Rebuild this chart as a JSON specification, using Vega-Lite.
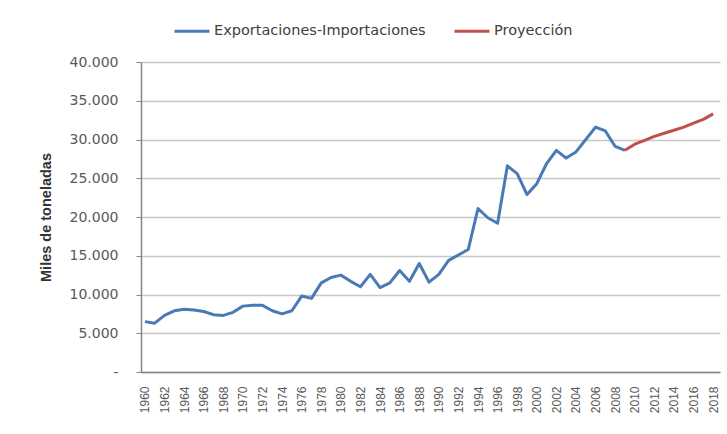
{
  "$schema": "https://vega.github.io/schema/vega-lite/v6.json",
  "width": 579,
  "height": 310,
  "autosize": {"type": "none"},
  "padding": {"left": 141, "top": 62, "right": 7, "bottom": 62},
  "background": "white",
  "data": {
    "values": [
      {"year": 1960, "value": 6500, "serie": "Exportaciones-Importaciones"},
      {"year": 1961, "value": 6300, "serie": "Exportaciones-Importaciones"},
      {"year": 1962, "value": 7300, "serie": "Exportaciones-Importaciones"},
      {"year": 1963, "value": 7900, "serie": "Exportaciones-Importaciones"},
      {"year": 1964, "value": 8100, "serie": "Exportaciones-Importaciones"},
      {"year": 1965, "value": 8000, "serie": "Exportaciones-Importaciones"},
      {"year": 1966, "value": 7800, "serie": "Exportaciones-Importaciones"},
      {"year": 1967, "value": 7400, "serie": "Exportaciones-Importaciones"},
      {"year": 1968, "value": 7300, "serie": "Exportaciones-Importaciones"},
      {"year": 1969, "value": 7700, "serie": "Exportaciones-Importaciones"},
      {"year": 1970, "value": 8500, "serie": "Exportaciones-Importaciones"},
      {"year": 1971, "value": 8600, "serie": "Exportaciones-Importaciones"},
      {"year": 1972, "value": 8600, "serie": "Exportaciones-Importaciones"},
      {"year": 1973, "value": 7900, "serie": "Exportaciones-Importaciones"},
      {"year": 1974, "value": 7500, "serie": "Exportaciones-Importaciones"},
      {"year": 1975, "value": 7900, "serie": "Exportaciones-Importaciones"},
      {"year": 1976, "value": 9800, "serie": "Exportaciones-Importaciones"},
      {"year": 1977, "value": 9500, "serie": "Exportaciones-Importaciones"},
      {"year": 1978, "value": 11500, "serie": "Exportaciones-Importaciones"},
      {"year": 1979, "value": 12200, "serie": "Exportaciones-Importaciones"},
      {"year": 1980, "value": 12500, "serie": "Exportaciones-Importaciones"},
      {"year": 1981, "value": 11700, "serie": "Exportaciones-Importaciones"},
      {"year": 1982, "value": 11000, "serie": "Exportaciones-Importaciones"},
      {"year": 1983, "value": 12600, "serie": "Exportaciones-Importaciones"},
      {"year": 1984, "value": 10900, "serie": "Exportaciones-Importaciones"},
      {"year": 1985, "value": 11500, "serie": "Exportaciones-Importaciones"},
      {"year": 1986, "value": 13100, "serie": "Exportaciones-Importaciones"},
      {"year": 1987, "value": 11700, "serie": "Exportaciones-Importaciones"},
      {"year": 1988, "value": 14000, "serie": "Exportaciones-Importaciones"},
      {"year": 1989, "value": 11600, "serie": "Exportaciones-Importaciones"},
      {"year": 1990, "value": 12600, "serie": "Exportaciones-Importaciones"},
      {"year": 1991, "value": 14400, "serie": "Exportaciones-Importaciones"},
      {"year": 1992, "value": 15100, "serie": "Exportaciones-Importaciones"},
      {"year": 1993, "value": 15800, "serie": "Exportaciones-Importaciones"},
      {"year": 1994, "value": 21100, "serie": "Exportaciones-Importaciones"},
      {"year": 1995, "value": 19900, "serie": "Exportaciones-Importaciones"},
      {"year": 1996, "value": 19200, "serie": "Exportaciones-Importaciones"},
      {"year": 1997, "value": 26600, "serie": "Exportaciones-Importaciones"},
      {"year": 1998, "value": 25600, "serie": "Exportaciones-Importaciones"},
      {"year": 1999, "value": 22900, "serie": "Exportaciones-Importaciones"},
      {"year": 2000, "value": 24300, "serie": "Exportaciones-Importaciones"},
      {"year": 2001, "value": 26900, "serie": "Exportaciones-Importaciones"},
      {"year": 2002, "value": 28600, "serie": "Exportaciones-Importaciones"},
      {"year": 2003, "value": 27600, "serie": "Exportaciones-Importaciones"},
      {"year": 2004, "value": 28400, "serie": "Exportaciones-Importaciones"},
      {"year": 2005, "value": 30000, "serie": "Exportaciones-Importaciones"},
      {"year": 2006, "value": 31600, "serie": "Exportaciones-Importaciones"},
      {"year": 2007, "value": 31100, "serie": "Exportaciones-Importaciones"},
      {"year": 2008, "value": 29100, "serie": "Exportaciones-Importaciones"},
      {"year": 2009, "value": 28600, "serie": "Exportaciones-Importaciones"},
      {"year": 2009, "value": 28600, "serie": "Proyección"},
      {"year": 2010, "value": 29400, "serie": "Proyección"},
      {"year": 2011, "value": 29900, "serie": "Proyección"},
      {"year": 2012, "value": 30400, "serie": "Proyección"},
      {"year": 2013, "value": 30800, "serie": "Proyección"},
      {"year": 2014, "value": 31200, "serie": "Proyección"},
      {"year": 2015, "value": 31600, "serie": "Proyección"},
      {"year": 2016, "value": 32100, "serie": "Proyección"},
      {"year": 2017, "value": 32600, "serie": "Proyección"},
      {"year": 2018, "value": 33300, "serie": "Proyección"}
    ]
  },
  "mark": {"type": "line", "strokeWidth": 3, "strokeJoin": "round"},
  "encoding": {
    "x": {
      "field": "year",
      "type": "quantitative",
      "scale": {"domain": [1959.6, 2018.7], "nice": false, "zero": false},
      "axis": {
        "title": null,
        "values": [1960,1962,1964,1966,1968,1970,1972,1974,1976,1978,1980,1982,1984,1986,1988,1990,1992,1994,1996,1998,2000,2002,2004,2006,2008,2010,2012,2014,2016,2018],
        "format": "d",
        "labelAngle": 270,
        "labelAlign": "right",
        "labelBaseline": "middle",
        "labelFontSize": 12,
        "labelColor": "#595959",
        "labelPadding": 14,
        "labelFont": "Liberation Sans",
        "ticks": false,
        "grid": false,
        "domainColor": "#868686",
        "domainWidth": 1.5,
        "labelOverlap": false,
        "labelFlush": false
      }
    },
    "y": {
      "field": "value",
      "type": "quantitative",
      "scale": {"domain": [0, 40000], "nice": false},
      "axis": {
        "title": "Miles de toneladas",
        "titleFont": "Liberation Sans",
        "titleFontSize": 14.5,
        "titleFontWeight": "bold",
        "titleColor": "#333333",
        "titlePadding": 16,
        "values": [0,5000,10000,15000,20000,25000,30000,35000,40000],
        "labelExpr": "datum.value == 0 ? '-' : replace(format(datum.value, ','), ',', '.')",
        "labelFont": "DejaVu Sans",
        "labelFontSize": 14,
        "labelColor": "#595959",
        "labelPadding": 18,
        "tickSize": 5,
        "tickColor": "#868686",
        "domainColor": "#868686",
        "domainWidth": 1.5,
        "gridColor": "#c8c8c8",
        "gridWidth": 1.5
      }
    },
    "color": {
      "field": "serie",
      "type": "nominal",
      "scale": {
        "domain": ["Exportaciones-Importaciones", "Proyección"],
        "range": ["#4a7ab5", "#c0504d"]
      },
      "legend": {
        "title": null,
        "orient": "none",
        "legendX": 32,
        "legendY": -50,
        "direction": "horizontal",
        "symbolType": "stroke",
        "symbolSize": 1225,
        "symbolStrokeWidth": 3,
        "labelFont": "DejaVu Sans",
        "labelFontSize": 14.5,
        "labelColor": "#404040",
        "labelOffset": 3,
        "labelLimit": 0,
        "columnPadding": 22
      }
    }
  },
  "config": {"view": {"stroke": null}}
}
